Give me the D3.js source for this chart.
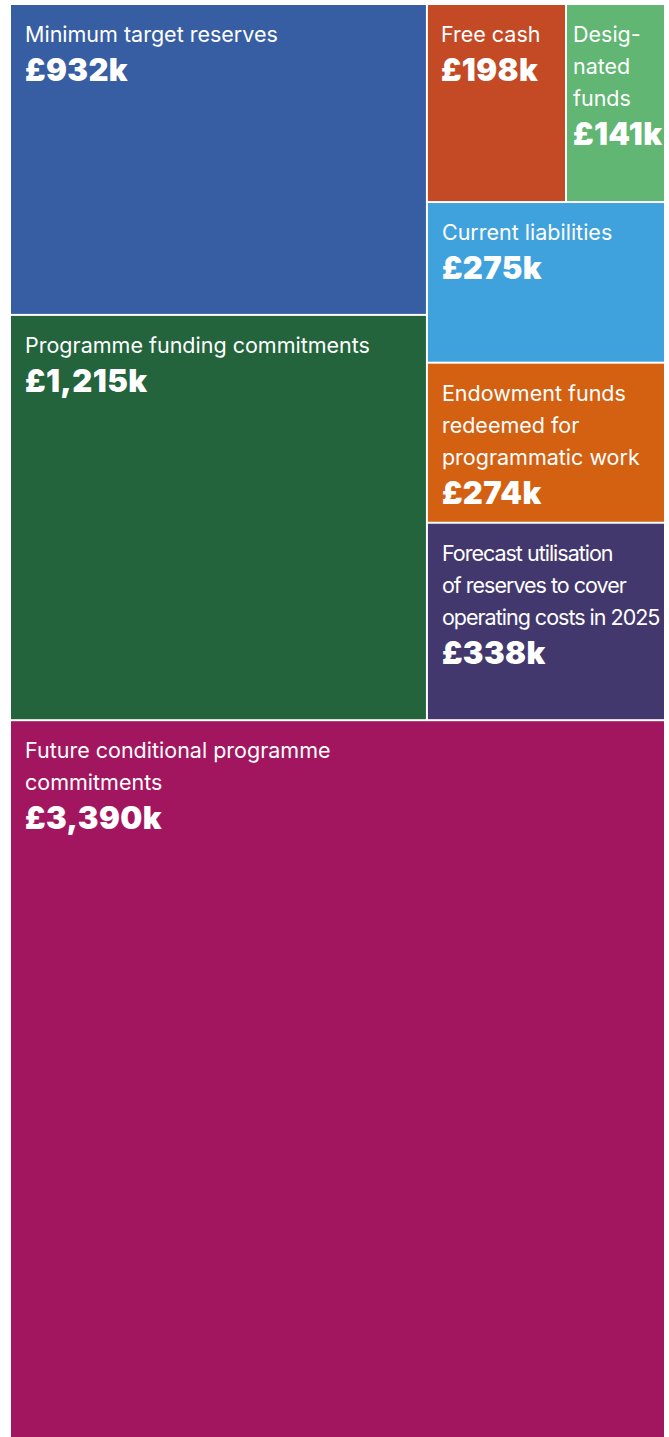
<!DOCTYPE html>
<html>
<head>
<meta charset="utf-8">
<script src="https://cdn.jsdelivr.net/npm/d3@7"></script>
<style>
  html, body { margin: 0; padding: 0; background: #ffffff; }
  svg { display: block; }
  .lbl { font-family: Inter, "Noto Sans", sans-serif; font-size: 21.5px; font-weight: 400; fill: #ffffff; }
  .val { font-family: Inter, "Noto Sans", sans-serif; font-size: 31px; font-weight: 900; fill: #ffffff; letter-spacing: 0.4px; }
</style>
</head>
<body>
<svg id="chart" width="669" height="1437"></svg>
<script>
// Reserve components, in £ thousands
const names = [
  "Minimum target reserves",
  "Programme funding commitments",
  "Free cash",
  "Designated funds",
  "Current liabilities",
  "Endowment funds redeemed for programmatic work",
  "Forecast utilisation of reserves to cover operating costs in 2025",
  "Future conditional programme commitments"
];
const values = [932, 1215, 198, 141, 275, 274, 338, 3390];

// Where each block sits in the nested layout (groups are split alternately)
const groupPaths = [
  "top/left", "top/left",
  "top/right/cash", "top/right/cash",
  "top/right", "top/right", "top/right",
  ""
];

// Label text as it is broken into lines
const labelLines = [
  ["Minimum target reserves"],
  ["Programme funding commitments"],
  ["Free cash"],
  ["Desig-", "nated", "funds"],
  ["Current liabilities"],
  ["Endowment funds", "redeemed for", "programmatic work"],
  ["Forecast utilisation", "of reserves to cover", "operating costs in 2025"],
  ["Future conditional programme", "commitments"]
];

const colors = ["#375ea3", "#23643d", "#c34a25", "#61b673", "#3fa2dc", "#d46012", "#42386e", "#a2165f"];

// Horizontal text inset per block
const insets = [14, 14, 13, 6, 14, 14, 14, 14];

// Build the nested tree
function groupNode(id) { return { id, children: [] }; }
const root = groupNode("");
const lookup = { "": root };
groupPaths.forEach((p, i) => {
  let parent = root;
  if (p) {
    const parts = p.split("/");
    let acc = "";
    parts.forEach(part => {
      acc = acc ? acc + "/" + part : part;
      if (!lookup[acc]) {
        lookup[acc] = groupNode(acc);
        parent.children.push(lookup[acc]);
      }
      parent = lookup[acc];
    });
  }
  parent.children.push({ id: names[i], index: i, value: values[i] });
});
// keep the future commitments block last in the root
root.children.sort((a, b) => (a.id === "top" ? -1 : 0) - (b.id === "top" ? -1 : 0));

const hierarchy = d3.hierarchy(root).sum(d => d.value || 0);

// Even depths stack vertically, odd depths split side by side
const tile = (node, x0, y0, x1, y1) =>
  (node.depth & 1 ? d3.treemapDice : d3.treemapSlice)(node, x0, y0, x1, y1);

d3.treemap()
  .tile(tile)
  .size([653, 1434])
  .paddingInner(2)
  .round(false)(hierarchy);

const svg = d3.select("#chart");
const g = svg.append("g").attr("transform", "translate(11,5)");

const fmt = d3.format(",");
const leaves = g.selectAll("g.cell")
  .data(hierarchy.leaves())
  .join("g")
  .attr("class", "cell")
  .attr("transform", d => `translate(${d.x0},${d.y0})`);

leaves.append("rect")
  .attr("width", d => d.x1 - d.x0)
  .attr("height", d => d.y1 - d.y0)
  .attr("fill", d => colors[d.data.index]);

const firstBase = 37, lineGap = 32, valueGap = 39;

leaves.each(function(d) {
  const cell = d3.select(this);
  const i = d.data.index;
  const lines = labelLines[i];
  const tx = insets[i];
  const t = cell.append("text").attr("class", "lbl")
    .attr("letter-spacing", i === 6 ? "-1px" : null);
  lines.forEach((ln, k) => {
    t.append("tspan").attr("x", tx).attr("y", firstBase + k * lineGap).text(ln);
  });
  cell.append("text").attr("class", "val")
    .attr("x", tx)
    .attr("y", firstBase + (lines.length - 1) * lineGap + valueGap)
    .text("£" + fmt(values[i]) + "k");
});
</script>
</body>
</html>
